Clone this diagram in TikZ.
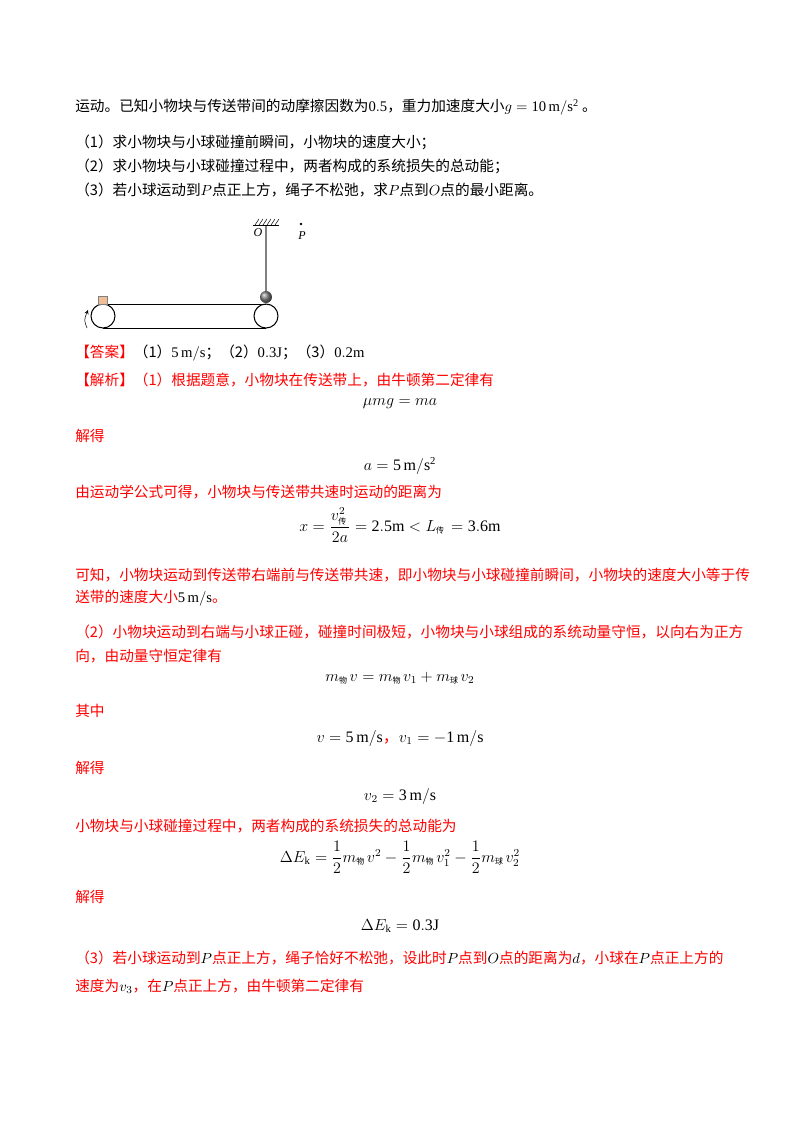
\documentclass[tikz,border=0pt]{standalone}
\usepackage{amsmath}
\usepackage{fontspec}
\setmainfont{Noto Sans CJK SC}
\setmathrm{Liberation Serif}
\newfontfamily\numf{Liberation Serif}
\newcommand{\cs}[1]{\text{\fontsize{6}{6}\selectfont #1}\mkern3mu}
\begin{document}
\begin{tikzpicture}[x=0.75pt,y=-0.75pt,
  txt/.style={anchor=west,inner sep=0pt,font=\fontsize{11}{13}\selectfont},
  rtxt/.style={txt,text=red},
  eq/.style={anchor=center,inner sep=0pt,font=\fontsize{12}{14}\selectfont}]
\useasboundingbox[fill=white] (0,0) rectangle (800,1132);
\node[txt] (l1) at (75,107) {运动。已知小物块与传送带间的动摩擦因数为$\mathrm{0.5}$，重力加速度大小$g=\mathrm{10\,m/s^2}$ 。};
\node[txt] (l2) at (75,142) {（1）求小物块与小球碰撞前瞬间，小物块的速度大小；};
\node[txt] (l3) at (75,166) {（2）求小物块与小球碰撞过程中，两者构成的系统损失的总动能；};
\node[txt] (l4) at (75,190) {（3）若小球运动到$P$点正上方，绳子不松弛，求$P$点到$O$点的最小距离。};
% figure
\draw[thick] (103,316) circle (12) (266,316) circle (12);
\draw (103,304) -- (266,304) (103,328) -- (266,328);
\draw[fill={rgb,255:red,240;green,190;blue,150},draw=gray] (98,296) rectangle (107,304);
\shade[ball color=gray] (266,297) circle (6);
\coordinate (O) at (266,225);
\coordinate (Pd) at (301,224);
\draw[gray,thick] (O) -- (266,291);
\draw (253,225) -- (279,225);
\foreach \i in {0,...,5} \draw (255+4*\i,225) -- (259+4*\i,219);
\node[inner sep=0pt,font=\itshape\numf\small] (Ol) at (258,233) {O};
\fill (Pd) circle (1.3);
\node[inner sep=0pt,font=\itshape\numf\small] (Pl) at (302,236) {P};
\coordinate (a1) at (87,328);
\coordinate (a2) at (88,310);
\draw[-stealth] (a1) .. controls (84,320) .. (a2);
% answer
\node[txt] (ans) at (75,353) {\textcolor{red}{【答案】}（1）$\mathrm{5\,m/s}$；（2）$\mathrm{0.3J}$；（3）$\mathrm{0.2m}$};
\node[rtxt] (jx) at (75,380) {【解析】（1）根据题意，小物块在传送带上，由牛顿第二定律有};
\node[eq] (e1) at (400,404) {$\mu mg=ma$};
\node[rtxt] at (75,436) {解得};
\node[eq] (e2) at (400,466) {$a=\mathrm{5\,m/s^2}$};
\node[rtxt] at (75,492) {由运动学公式可得，小物块与传送带共速时运动的距离为};
\node[eq] (e3) at (400,525) {$x=\dfrac{v_{\cs{传}}^2}{2a}=\mathrm{2.5m}<L_{\cs{传}}=\mathrm{3.6m}$};
\node[rtxt] at (75,575) {可知，小物块运动到传送带右端前与传送带共速，即小物块与小球碰撞前瞬间，小物块的速度大小等于传};
\node[rtxt] at (75,598) {送带的速度大小\textcolor{black}{$\mathrm{5\,m/s}$}。};
\node[rtxt] at (75,632) {（2）小物块运动到右端与小球正碰，碰撞时间极短，小物块与小球组成的系统动量守恒，以向右为正方};
\node[rtxt] at (75,656) {向，由动量守恒定律有};
\node[eq] (e4) at (400,678) {$m_{\cs{物}}v=m_{\cs{物}}v_1+m_{\cs{球}}v_2$};
\node[rtxt] at (75,711) {其中};
\node[eq] (e5) at (400,738) {$v=\mathrm{5\,m/s}$\textcolor{red}{，}$v_1=-\mathrm{1\,m/s}$};
\node[rtxt] at (75,768) {解得};
\node[eq] (e6) at (400,796) {$v_2=\mathrm{3\,m/s}$};
\node[rtxt] at (75,826) {小物块与小球碰撞过程中，两者构成的系统损失的总动能为};
\node[eq] (e7) at (400,857) {$\Delta E_{\mathrm{k}}=\dfrac12 m_{\cs{物}}v^2-\dfrac12 m_{\cs{物}}v_1^2-\dfrac12 m_{\cs{球}}v_2^2$};
\node[rtxt] at (75,897) {解得};
\node[eq] (e8) at (400,926) {$\Delta E_{\mathrm{k}}=\mathrm{0.3J}$};
\node[rtxt] at (75,958) {（3）若小球运动到\textcolor{black}{$P$}点正上方，绳子恰好不松弛，设此时\textcolor{black}{$P$}点到\textcolor{black}{$O$}点的距离为\textcolor{black}{$d$}，小球在\textcolor{black}{$P$}点正上方的};
\node[rtxt] at (75,986) {速度为\textcolor{black}{$v_3$}，在\textcolor{black}{$P$}点正上方，由牛顿第二定律有};
\end{tikzpicture}
\end{document}
